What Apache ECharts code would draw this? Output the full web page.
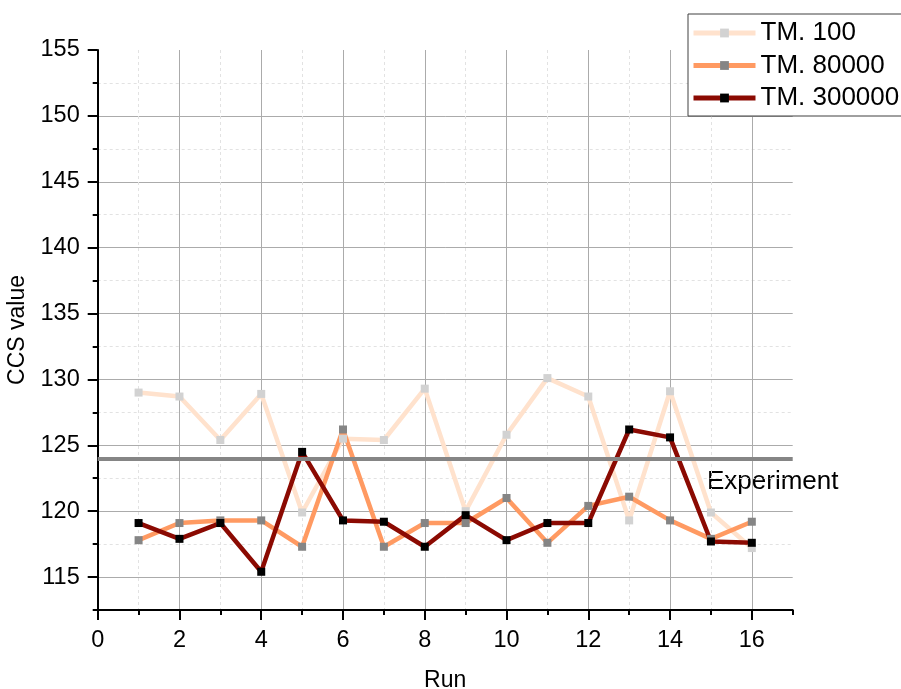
<!DOCTYPE html>
<html>
<head>
<meta charset="utf-8">
<script src="https://cdn.jsdelivr.net/npm/echarts@6/dist/echarts.min.js"></script>
<style>
  html, body { margin: 0; padding: 0; background: #fff; }
  #chart { width: 901px; height: 689px; }
</style>
</head>
<body>
<div id="chart"></div>
<script>
// Data
const runs = [1, 2, 3, 4, 5, 6, 7, 8, 9, 10, 11, 12, 13, 14, 15, 16];
const tm100 = [129.0, 128.7, 125.4, 128.9, 119.9, 125.5, 125.4, 129.3, 120.0, 125.8, 130.1, 128.7, 119.3, 129.1, 119.9, 117.2];
const tm80000 = [117.8, 119.1, 119.3, 119.3, 117.3, 126.2, 117.3, 119.1, 119.1, 121.0, 117.6, 120.4, 121.1, 119.3, 117.9, 119.2];
const tm300000 = [119.1, 117.9, 119.1, 115.4, 124.5, 119.3, 119.2, 117.3, 119.7, 117.8, 119.1, 119.1, 126.2, 125.6, 117.7, 117.6];
const experiment = 124.0;

const FONT = 'Liberation Sans, Arial, sans-serif';

const pairs = (vals) => runs.map((r, i) => [r, vals[i]]);

const makeSeries = (name, vals, lineColor, markerColor) => ({
  name: name,
  type: 'line',
  xAxisIndex: 1,
  yAxisIndex: 1,
  data: pairs(vals),
  symbol: 'rect',
  symbolSize: 8,
  showSymbol: true,
  lineStyle: { color: lineColor, width: 4.5 },
  itemStyle: { color: markerColor },
  emphasis: { disabled: true },
});

const chart = echarts.init(document.getElementById('chart'));

const seriesList = [
  makeSeries('TM. 100', tm100, '#ffe2cd', '#d2d2d2'),
  makeSeries('TM. 80000', tm80000, '#ff9a62', '#858585'),
  makeSeries('TM. 300000', tm300000, '#8b0a02', '#000000'),
];

// experiment reference line
seriesList[0].markLine = {
  silent: true,
  symbol: 'none',
  label: { show: false },
  lineStyle: { color: '#858585', width: 4, type: 'solid' },
  data: [{ yAxis: experiment }],
};

chart.setOption({
  animation: false,
  backgroundColor: '#fff',
  grid: { left: 97.7, top: 50, right: 108.3, bottom: 79, containLabel: false, outerBoundsMode: 'none' },
  legend: {
    orient: 'vertical',
    left: 688,
    top: 14,
    padding: [6, 14, 5, 3],
    itemWidth: 62,
    itemHeight: 11,
    itemGap: 6.5,
    borderColor: '#404040',
    borderWidth: 1,
    backgroundColor: '#fff',
    lineStyle: { width: 5 },
    textStyle: { fontFamily: FONT, fontSize: 26, color: '#000' },
    data: ['TM. 100', 'TM. 80000', 'TM. 300000'],
  },
  xAxis: [
    {
      // minor grid
      type: 'value', min: 0, max: 17, interval: 1, position: 'bottom',
      axisLine: { show: false, onZero: false },
      axisTick: { show: true, inside: false, length: 5, lineStyle: { color: '#000', width: 2 } },
      axisLabel: { show: false },
      splitLine: { show: true, showMaxLine: false, lineStyle: { color: '#e2e2e2', type: [3, 3], width: 1 } },
    },
    {
      type: 'value', min: 0, max: 17, interval: 2, position: 'bottom',
      name: 'Run', nameLocation: 'middle', nameGap: 59,
      nameTextStyle: { fontFamily: FONT, fontSize: 23, color: '#000' },
      axisLine: { show: true, onZero: false, lineStyle: { color: '#000', width: 2 } },
      axisTick: { show: true, inside: false, length: 10, lineStyle: { color: '#000', width: 2 } },
      axisLabel: { fontFamily: FONT, fontSize: 23.5, color: '#000', margin: 19, showMaxLabel: false },
      splitLine: { show: true, showMaxLine: false, lineStyle: { color: '#ababab', width: 1 } },
    },
  ],
  yAxis: [
    {
      // minor grid
      type: 'value', min: 112.5, max: 155, interval: 2.5, position: 'left',
      axisLine: { show: false, onZero: false },
      axisTick: { show: true, inside: false, length: 5, lineStyle: { color: '#000', width: 2 } },
      axisLabel: { show: false },
      splitLine: { show: true, showMaxLine: false, lineStyle: { color: '#e2e2e2', type: [3, 3], width: 1 } },
    },
    {
      type: 'value', min: 112.5, max: 155, splitNumber: 8, minInterval: 5, maxInterval: 5, position: 'left',
      name: 'CCS value', nameLocation: 'middle', nameGap: 56, nameRotate: 90,
      nameTextStyle: { fontFamily: FONT, fontSize: 23, color: '#000' },
      axisLine: { show: true, onZero: false, lineStyle: { color: '#000', width: 2 } },
      axisTick: { show: true, inside: false, length: 10, lineStyle: { color: '#000', width: 2 } },
      axisLabel: { fontFamily: FONT, fontSize: 23.5, color: '#000', margin: 18, showMinLabel: false },
      splitLine: { show: true, showMaxLine: false, showMinLine: false, lineStyle: { color: '#ababab', width: 1 } },
    },
  ],
  graphic: [
    {
      type: 'text', left: 707, top: 469,
      style: { text: 'Experiment', font: '26px ' + FONT, fill: '#000' },
    },
  ],
  series: seriesList,
});
</script>
</body>
</html>
